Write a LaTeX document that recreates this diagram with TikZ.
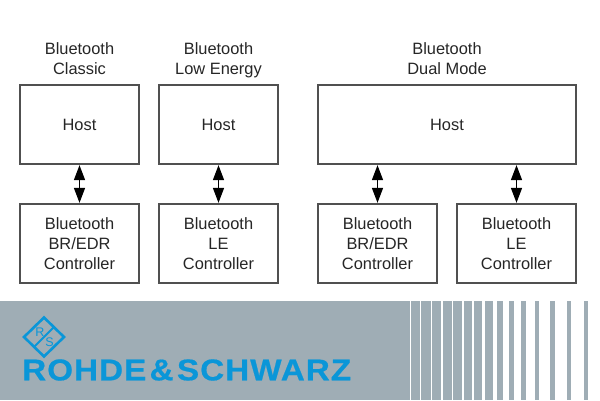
\documentclass[tikz,border=0pt]{standalone}
\usepackage{fontspec}
\usepackage{graphicx}
\setmainfont{Liberation Sans}
\usetikzlibrary{arrows.meta}
\definecolor{band}{HTML}{9FADB5}
\definecolor{rsblue}{HTML}{0A96D8}
\definecolor{boxline}{HTML}{505050}
\tikzset{
  x=1pt,y=-1pt,
  blk/.style={draw=boxline,line width=1.1pt,fill=white,inner sep=0pt,align=center,font=\fontsize{16.4}{20}\selectfont,text=black!85},
  ttl/.style={inner sep=0pt,align=center,font=\fontsize{16.4}{20}\selectfont,text=black!85},
  link/.style={draw=black,line width=1.5pt,{Triangle[length=15pt,width=11pt]}-{Triangle[length=15pt,width=11pt]},shorten <=0.6pt,shorten >=0.6pt},
  stripe/.style={fill=band,draw=none}
}
\newcommand{\blkbox}[6]{\node[blk,minimum width=#4pt,minimum height=#5pt] (#1) at (#2,#3) {#6};}
\begin{document}
\begin{tikzpicture}
\useasboundingbox (0,0) rectangle (600,400);
\fill[white] (0,0) rectangle (600,400);
% band
\fill[band] (0,301) rectangle (409.5,400);
\foreach \a/\b in {410.5/420,421/430.5,432/441,442.5/451.5,453/462,464/471.5,474/481.5,485/493,497/503,509/514,521/526,535/539,550/555,567/570.5,584/588}{
  \fill[stripe] (\a,301) rectangle (\b,400);
}
% titles
\node[ttl] (t1) at (79.5,60) {Bluetooth\\Classic\vphantom{y}};
\node[ttl] (t2) at (218.5,60) {Bluetooth\\Low Energy};
\node[ttl] (t3) at (447,60) {Bluetooth\\Dual Mode\vphantom{y}};
% hosts
\blkbox{h1}{79.5}{124.5}{119}{79}{Host}
\blkbox{h2}{218.5}{124.5}{119}{79}{Host}
\blkbox{h3}{447}{124.5}{258}{79}{Host}
% controllers
\blkbox{c1}{79.5}{243.5}{119}{79}{Bluetooth\\BR/EDR\\Controller}
\blkbox{c2}{218.5}{243.5}{119}{79}{Bluetooth\\LE\\Controller}
\blkbox{c3}{377.5}{243.5}{119}{79}{Bluetooth\\BR/EDR\\Controller}
\blkbox{c4}{516.5}{243.5}{119}{79}{Bluetooth\\LE\\Controller}
% arrows
\draw[link] (h1.south) -- (c1.north);
\draw[link] (h2.south) -- (c2.north);
\draw[link] (c3.north |- h3.south) -- (c3.north);
\draw[link] (c4.north |- h3.south) -- (c4.north);
% logo
\draw[rsblue,line width=2.6pt,line join=miter] (44,317.5) -- (64,337) -- (44,356.5) -- (24,337) -- cycle;
\draw[rsblue,line width=1.8pt] (54.5,326.5) -- (33.5,347.5);
\node[text=rsblue,inner sep=0pt,font=\fontsize{12.5}{12.5}\selectfont] (lr) at (40,332.5) {R};
\node[text=rsblue,inner sep=0pt,font=\fontsize{12.5}{12.5}\selectfont] (ls) at (49.5,342.5) {S};
\node[anchor=west,inner sep=0pt,text=rsblue] (logo) at (22,370) {\resizebox{329pt}{\height}{\fontsize{30}{30}\bfseries\addfontfeature{LetterSpace=3,FakeBold=0.6}ROHDE\kern3pt\&\kern3pt SCHWARZ}};
\end{tikzpicture}
\end{document}
